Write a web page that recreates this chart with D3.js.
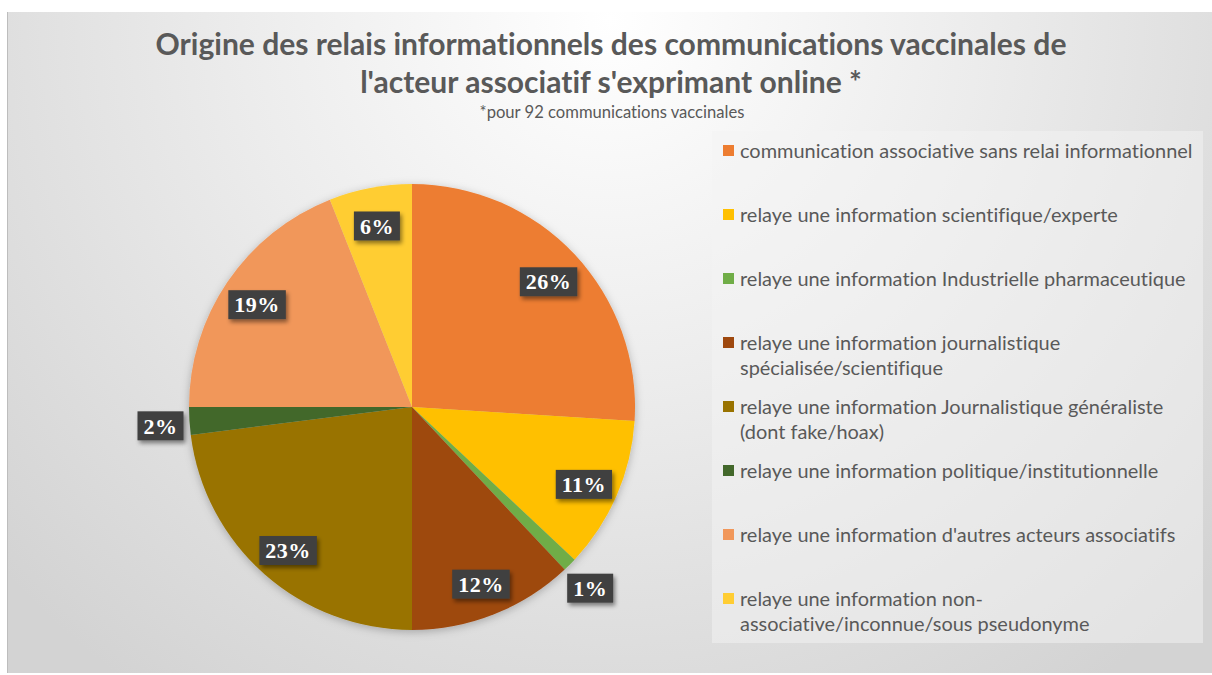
<!DOCTYPE html>
<html>
<head>
<meta charset="utf-8">
<script src="https://cdn.jsdelivr.net/npm/d3@7"></script>
<style>
  html, body { margin: 0; padding: 0; background: #ffffff; }
  svg { display: block; }
  text { font-variant-ligatures: none; font-feature-settings: "liga" 0, "dlig" 0; }
</style>
</head>
<body>
<svg id="chart" width="1212" height="675"></svg>
<script>
'use strict'

// chart data
const titleLines = [
  'Origine des relais informationnels des communications vaccinales de',
  "l'acteur associatif s'exprimant online *"
]
const subtitle = '*pour 92 communications vaccinales'

const categories = [
  ['communication associative sans relai informationnel'],
  ['relaye une information scientifique/experte'],
  ['relaye une information Industrielle pharmaceutique'],
  ['relaye une information journalistique', 'spécialisée/scientifique'],
  ['relaye une information Journalistique généraliste', '(dont fake/hoax)'],
  ['relaye une information politique/institutionnelle'],
  ["relaye une information d'autres acteurs associatifs"],
  ['relaye une information non-', 'associative/inconnue/sous pseudonyme']
]
const values = [26, 11, 1, 12, 23, 2, 19, 6]
const colors = ['#ED7D31', '#FFC000', '#70AD47', '#9E480E', '#997300', '#43682B', '#F1975A', '#FFCD33']

const W = 1212
const H = 675
const textColor = '#595959'
const sansFont = 'Lato, "Open Sans", "Noto Sans", sans-serif'

const svg = d3.select('#chart')
const defs = svg.append('defs')

const bg = defs.append('radialGradient')
  .attr('id', 'bg-grad')
  .attr('gradientUnits', 'userSpaceOnUse')
  .attr('cx', 610).attr('cy', 20).attr('r', 820)
bg.append('stop').attr('offset', 0).attr('stop-color', '#ffffff')
bg.append('stop').attr('offset', 0.45).attr('stop-color', '#ececec')
bg.append('stop').attr('offset', 1).attr('stop-color', '#d3d3d3')

const pieShadow = defs.append('filter').attr('id', 'pie-shadow')
  .attr('x', '-20%').attr('y', '-20%').attr('width', '140%').attr('height', '140%')
pieShadow.append('feDropShadow')
  .attr('dx', 0).attr('dy', 2).attr('stdDeviation', 4)
  .attr('flood-color', '#000').attr('flood-opacity', 0.25)

const boxShadow = defs.append('filter').attr('id', 'box-shadow')
  .attr('x', '-30%').attr('y', '-30%').attr('width', '170%').attr('height', '180%')
boxShadow.append('feDropShadow')
  .attr('dx', 2).attr('dy', 3).attr('stdDeviation', 2)
  .attr('flood-color', '#000').attr('flood-opacity', 0.45)

// chart area with a faint left border
svg.append('rect')
  .attr('x', 7).attr('y', 12).attr('width', W - 7).attr('height', 661)
  .attr('fill', 'url(#bg-grad)')
svg.append('line')
  .attr('x1', 7.5).attr('x2', 7.5).attr('y1', 12).attr('y2', 673)
  .attr('stroke', '#bdbdbd').attr('stroke-width', 1)

// shrink/grow a text node until it spans the wanted width
function fitWidth (sel, target) {
  const size = parseFloat(sel.attr('font-size'))
  const w = sel.node().getComputedTextLength()
  const next = size * target / w
  sel.attr('font-size', next)
  return next
}

const title = svg.append('g').attr('class', 'title')
const t1 = title.append('text')
  .attr('x', 611).attr('y', 55)
  .attr('text-anchor', 'middle')
  .attr('font-family', sansFont).attr('font-weight', 700)
  .attr('font-size', 26).attr('fill', textColor)
  .text(titleLines[0])
const titleSize = fitWidth(t1, 911)
title.append('text')
  .attr('x', 611).attr('y', 93)
  .attr('text-anchor', 'middle')
  .attr('font-family', sansFont).attr('font-weight', 700)
  .attr('font-size', titleSize).attr('fill', textColor)
  .text(titleLines[1])
const sub = title.append('text')
  .attr('x', 612).attr('y', 118)
  .attr('text-anchor', 'middle')
  .attr('font-family', sansFont)
  .attr('font-size', 13).attr('fill', textColor)
  .text(subtitle)
fitWidth(sub, 265)

// pie
const cx = 412
const cy = 407
const radius = 223

const pie = d3.pie().sort(null).value(d => d)
const arcs = pie(values)
const arc = d3.arc().innerRadius(0).outerRadius(radius)
const insideArc = d3.arc().innerRadius(radius * 0.84).outerRadius(radius * 0.84)
const outsideArc = d3.arc().innerRadius(radius * 1.13).outerRadius(radius * 1.13)

const pieG = svg.append('g')
  .attr('transform', `translate(${cx},${cy})`)

pieG.append('g')
  .attr('filter', 'url(#pie-shadow)')
  .selectAll('path')
  .data(arcs)
  .enter()
  .append('path')
  .attr('d', arc)
  .attr('fill', (d, i) => colors[i])

const labels = pieG.append('g').attr('class', 'labels')
  .selectAll('g')
  .data(arcs)
  .enter()
  .append('g')
  .attr('transform', d => {
    const p = (d.data < 3 ? outsideArc : insideArc).centroid(d)
    return `translate(${p[0]},${p[1] + 3})`
  })

labels.append('rect')
  .attr('filter', 'url(#box-shadow)')
  .attr('fill', '#404040')
labels.append('text')
  .attr('text-anchor', 'middle')
  .attr('dy', '0.35em')
  .attr('font-family', '"Liberation Serif", "Times New Roman", serif')
  .attr('font-weight', 700)
  .attr('font-size', 22)
  .attr('letter-spacing', 0.5)
  .attr('fill', '#ffffff')
  .text(d => `${d.data}%`)
labels.each(function () {
  const g = d3.select(this)
  const w = g.select('text').node().getComputedTextLength()
  g.select('rect')
    .attr('x', -(w + 12) / 2).attr('y', -14.5)
    .attr('width', w + 12).attr('height', 29)
})

// legend
const legend = svg.append('g').attr('class', 'legend')
legend.append('rect')
  .attr('x', 712).attr('y', 131).attr('width', 491).attr('height', 512)
  .attr('fill', '#f4f4f4').attr('fill-opacity', 0.5)

const rowStep = 64
const lineStep = 25.5
const items = legend.selectAll('g.item')
  .data(categories)
  .enter()
  .append('g')
  .attr('class', 'item')
  .attr('transform', (d, i) => `translate(723,${151 + i * rowStep})`)

items.append('rect')
  .attr('x', 0).attr('y', -6).attr('width', 11).attr('height', 11)
  .attr('fill', (d, i) => colors[i])

const itemText = items.append('text')
  .attr('font-family', sansFont)
  .attr('font-size', 17)
  .attr('fill', textColor)
itemText.selectAll('tspan')
  .data(d => d)
  .enter()
  .append('tspan')
  .attr('x', 17)
  .attr('y', (d, j) => j * lineStep)
  .attr('dy', '0.35em')
  .text(d => d)

const probe = d3.select(itemText.nodes()[0])
const legendSize = fitWidth(probe, 453)
itemText.attr('font-size', legendSize)
</script>
</body>
</html>
